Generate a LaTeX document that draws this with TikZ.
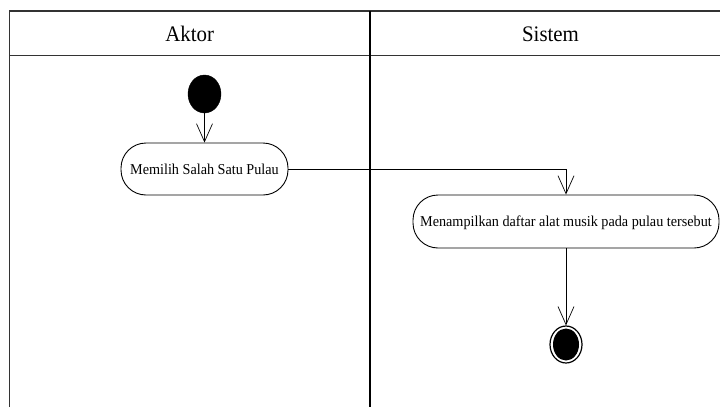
\documentclass[tikz,border=0pt]{standalone}
\usepackage{fontspec}
\setmainfont[FakeStretch=0.94]{Liberation Serif}
\usetikzlibrary{arrows.meta,shapes.geometric}
\begin{document}
\begin{tikzpicture}[x=1pt,y=-1pt,
  lane/.style={line width=1.4pt, draw=black!80},
  act/.style={draw, line width=0.9pt, rounded corners=25pt, minimum height=52pt, inner sep=0pt,
    text height=10.5pt, text depth=0pt, font=\fontsize{15.1}{17}\selectfont},
  flow/.style={-{Straight Barb[length=18pt,width=16pt]}, line width=0.7pt},
  hdr/.style={anchor=base, font=\fontsize{22.2}{25}\selectfont}]
\useasboundingbox (0,0) rectangle (720,407);
\draw[lane] (9.5,407) -- (9.5,11) -- (720,11);
\draw[lane] (9.5,55.5) -- (720,55.5);
\draw[lane, draw=black] (370,11) -- (370,407);
\node[hdr] (h1) at (189.75,41.7) {Aktor};
\node[hdr] (h2) at (550.5,41.7) {Sistem};
\node[ellipse, draw, fill=black, minimum width=33pt, minimum height=38pt, inner sep=0pt] (start) at (204.5,94) {};
\node[act, minimum width=167pt] (a1) at (204.5,169) {Memilih Salah Satu Pulau};
\node[act, minimum width=306pt, minimum height=53pt] (a2) at (566,221.5) {Menampilkan daftar alat musik pada pulau tersebut};
\node[ellipse, draw, line width=1.2pt, minimum width=32pt, minimum height=37pt, inner sep=0pt] (end) at (566,344.5) {};
\fill (end.center) ellipse [x radius=13, y radius=16];
\draw[flow] (start) -- (a1);
\draw[flow] (a1.east) -| (a2.north);
\draw[flow] (a2) -- (end);
\end{tikzpicture}
\end{document}
